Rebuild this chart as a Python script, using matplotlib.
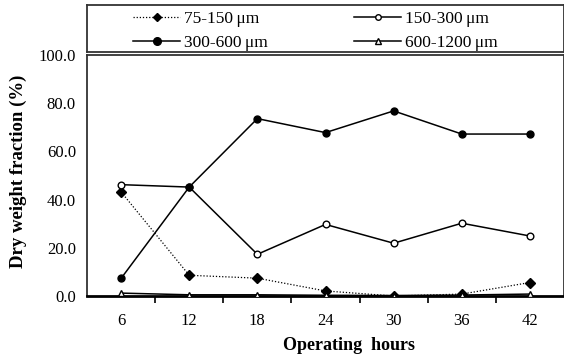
import matplotlib
matplotlib.use("Agg")
import matplotlib.pyplot as plt
from matplotlib.lines import Line2D

plt.rcParams["font.family"] = ["Liberation Serif", "DejaVu Serif"]

# ---------- data ----------
hours = ["6", "12", "18", "24", "30", "36", "42"]
frac_75_150 = [43.2, 8.6, 7.4, 2.1, 0.0, 0.8, 5.6]
frac_150_300 = [46.2, 45.2, 17.3, 29.7, 21.9, 30.2, 24.9]
frac_300_600 = [7.3, 45.2, 73.6, 67.8, 76.8, 67.2, 67.2]
frac_600_1200 = [1.2, 0.5, 0.5, 0.3, 0.2, 0.4, 0.8]
y_ticks = [0, 20, 40, 60, 80, 100]

W, H = 564, 361
fig = plt.figure(figsize=(W / 100, H / 100), dpi=100)

# main axes (pixel box 87..564 x 55..296)
ax = fig.add_axes([87 / W, (H - 296) / H, (564 - 87) / W, (296 - 55) / H])
x = list(range(len(hours)))

ax.plot(x, frac_75_150, color="black", lw=0.9, ls=(0, (1, 1.5)),
        marker="D", ms=5, mfc="black", mec="black", zorder=3)
ax.plot(x, frac_150_300, color="black", lw=1.1,
        marker="o", ms=4.8, mfc="white", mec="black", mew=1.0, zorder=3)
ax.plot(x, frac_300_600, color="black", lw=1.1,
        marker="o", ms=5, mfc="black", mec="black", zorder=3)
ax.plot(x, frac_600_1200, color="black", lw=1.1,
        marker="^", ms=4.3, mfc="white", mec="black", mew=1.0, zorder=3)

ax.set_xlim(-0.5, len(hours) - 0.5)
ax.set_ylim(0, 100)
ax.set_yticks(y_ticks)
ax.set_yticklabels([f"{v:.1f}" for v in y_ticks])
ax.tick_params(axis="y", length=0, pad=8, labelsize=12)

# tick marks between categories, labels at category centres
ax.set_xticks([i + 0.5 for i in range(len(hours) - 1)])
ax.set_xticklabels([])
ax.set_xticks(x, minor=True)
ax.set_xticklabels(hours, minor=True)
ax.tick_params(axis="x", which="major", direction="out", length=5, width=1.2)
ax.tick_params(axis="x", which="minor", length=0, pad=12, labelsize=12)

for side in ["left", "top", "right"]:
    ax.spines[side].set_linewidth(1.3)
    ax.spines[side].set_color("#333333")
ax.spines["bottom"].set_linewidth(2.0)
ax.spines["bottom"].set_color("black")

fig.text(349 / W, 1 - 346 / H, "Operating  hours", ha="center", va="center",
         fontsize=13, fontweight="bold")
fig.text(18 / W, 1 - 171 / H, "Dry weight fraction (%)", ha="center", va="center",
         rotation=90, fontsize=13.5, fontweight="bold")

# legend box (pixel box 87..564 x 5..52)
lax = fig.add_axes([87 / W, (H - 52) / H, (564 - 87) / W, (52 - 5) / H])
lax.set_xticks([])
lax.set_yticks([])
for s in lax.spines.values():
    s.set_linewidth(1.3)
    s.set_color("#333333")

handles = [
    Line2D([], [], color="black", lw=0.9, ls=(0, (1, 1.5)), marker="D", ms=4.5, mfc="black"),
    Line2D([], [], color="black", lw=1.1, marker="o", ms=5.5, mfc="black"),
    Line2D([], [], color="black", lw=1.1, marker="o", ms=4, mfc="white"),
    Line2D([], [], color="black", lw=1.1, marker="^", ms=4, mfc="white"),
]
labels = ["75-150\u2009\u03bcm", "300-600\u2009\u03bcm", "150-300\u2009\u03bcm", "600-1200\u2009\u03bcm"]
lax.legend(handles, labels, ncol=2, loc="center left", bbox_to_anchor=(0.097, 0.45),
           frameon=False, fontsize=12.5, handlelength=2.7, handletextpad=0.2,
           columnspacing=5.0, labelspacing=0.43, borderpad=0, borderaxespad=0)

fig.savefig("out.png", dpi=100)
